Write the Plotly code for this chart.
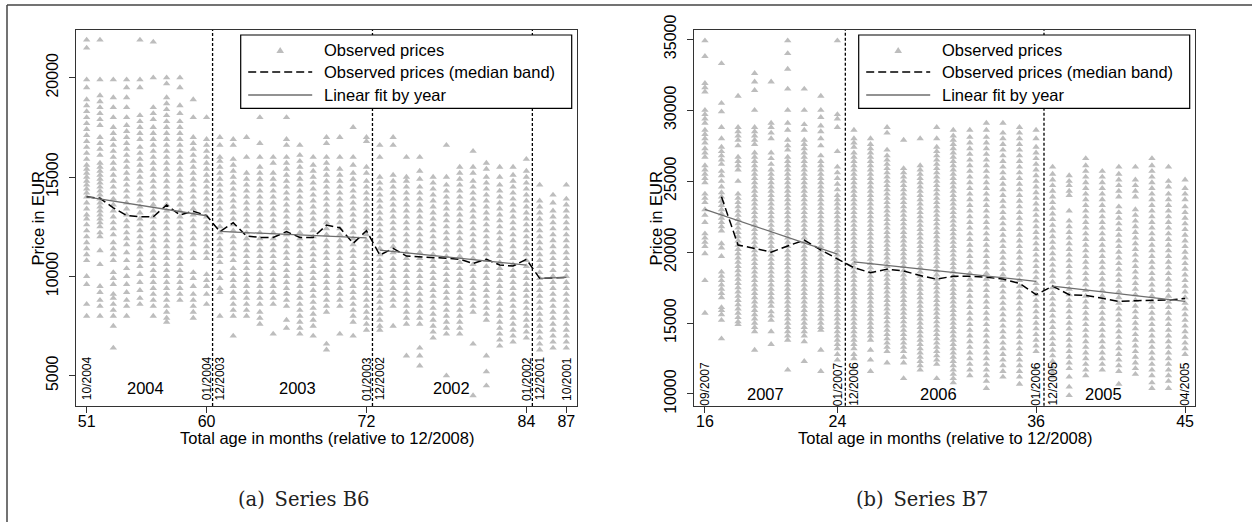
import plotly.graph_objects as go

W, H = 1252, 522
FONT = "Liberation Sans, Arial, sans-serif"
SERIF = "DejaVu Serif, Liberation Serif, serif"

# ---------------- Series B6 (prices in hundreds of EUR) ----------------
b6_months = [51, 52, 53, 54, 55, 56, 57, 58, 59, 60, 61, 62, 63, 64, 65, 66, 67, 68, 69,
             70, 71, 72, 73, 74, 75, 76, 77, 78, 79, 80, 81, 82, 83, 84, 85, 86, 87]
b6_prices = [
    "219 215 199 195 189 186 183 180 177 174 171 168 165 162 159 156 154 152 150 148 146 144 142 140 137 134 131 129 126 123 120 117 114 111 108 100 96 86 80",
    "219 199 191 188 185 182 179 176 170 167 164 161 157 155 153 151 149 147 145 143 141 139 137 135 133 131 129 127 125 122 120 113 106 95 92 88 85 80",
    "199 190 185 180 175 172 169 166 163 160 157 154 151 148 145 142 139 136 133 130 127 124 121 117 114 111 108 102 99 96 91 89 86 83 80 75 64",
    "199 195 190 185 180 176 173 170 167 164 161 158 155 152 149 146 143 140 137 134 131 128 125 122 119 116 112 108 104 100 96 92 88 85 80",
    "219 199 195 181 178 175 172 169 165 162 159 156 153 150 147 144 141 138 135 132 129 126 123 120 117 114 111 108 105 101 97 93 89 86",
    "218 200 185 182 179 175 172 169 166 163 160 157 154 151 148 145 142 139 136 133 130 127 124 121 118 115 112 109 106 103 100 97 94 91 88 85 80",
    "200 197 190 187 184 181 178 175 172 169 166 163 160 157 154 151 148 145 142 139 136 133 130 127 124 121 118 115 112 109 106 103 100 97 94 91 88 85 82 79 77",
    "200 195 186 182 178 175 172 169 166 163 160 157 154 151 148 145 142 139 136 133 130 127 124 121 118 115 112 109 106 103 100 97 94 91 88",
    "189 180 170 167 164 161 158 155 152 149 146 143 140 137 134 131 128 125 122 119 116 112 109 102 99 95 91 88 85 82 79",
    "180 169 166 163 160 157 154 151 148 145 142 139 136 133 130 127 124 121 118 115 112 109 101 98 95 91 86",
    "170 166 160 158 155 152 149 146 143 140 137 134 131 128 125 122 119 116 113 110 107 102 99 94 92 80",
    "169 166 159 156 153 150 147 144 141 138 135 132 129 126 123 120 117 114 111 108 104 101 98 95 92 89 86 83 80 70",
    "170 160 152 149 146 143 140 137 134 131 128 125 122 119 116 113 110 107 104 101 98 95 92 89 86 83 80",
    "180 167 160 155 152 149 146 143 140 137 134 131 128 125 122 119 116 113 110 107 104 101 98 95 92 89 86 82 79 76",
    "160 157 152 149 146 143 140 137 134 131 128 125 122 119 116 113 110 107 104 101 98 95 92 89 86 71",
    "180 169 166 160 157 154 151 148 145 142 139 136 133 130 127 124 121 118 115 112 109 106 103 100 97 94 91 88 85 78 74",
    "166 161 158 155 152 149 146 143 140 137 134 131 128 125 122 119 116 113 110 107 104 101 98 95 92 89 86 83 80 77 74 71",
    "160 156 153 150 147 144 141 138 135 132 129 126 123 120 117 114 111 108 105 102 99 96 93 90 87 84 81 78 75 70",
    "170 167 160 157 154 151 148 145 142 139 136 133 130 127 124 121 118 115 112 109 106 103 100 97 94 91 88 85 82 66 63",
    "170 160 154 151 148 145 142 139 136 133 130 127 124 121 118 115 112 109 106 103 100 97 94 91 88 85 71",
    "175 160 156 152 149 146 143 140 137 134 131 128 125 122 119 116 113 110 107 104 101 98 95 92 89 86 83 80 77 70",
    "170 168 155 152 148 145 142 139 136 133 130 127 124 121 118 115 112 109 106 103 100 97 94 91 88 85 82 79 76 73",
    "166 160 150 147 144 141 138 135 132 129 126 123 120 117 114 111 108 105 102 99 96 93 90 87 84 81 78 75 73",
    "170 166 151 148 145 142 139 136 133 130 127 124 121 118 115 112 109 106 103 100 97 94 91 88 85 75",
    "160 150 148 145 142 139 136 133 130 127 124 121 118 115 112 109 106 103 100 97 94 91 88 85 82 79 76 60",
    "160 153 149 145 142 139 136 133 130 127 124 121 118 115 112 109 106 103 100 97 94 91 88 85 82 79 76 64 60 55",
    "150 147 144 141 138 135 132 129 126 123 120 117 114 111 108 105 102 99 96 93 90 87 84 81 78 75 72 69",
    "166 150 146 143 140 137 134 131 128 125 122 119 116 113 110 107 104 101 98 95 92 89 86 83 80 77 74 71 50",
    "155 152 149 146 143 140 137 134 131 128 125 122 119 116 113 110 107 104 101 98 95 92 89 86 83 80 77 74 71",
    "163 155 152 148 145 142 139 136 133 130 127 124 121 118 115 112 109 106 103 100 97 94 91 88 85 82 66 40",
    "157 154 150 147 144 141 138 135 132 129 126 123 120 117 114 111 108 105 102 99 96 93 90 87 84 81 78 60 52 45",
    "155 150 146 143 140 137 134 131 128 125 122 119 116 113 110 107 104 101 98 95 92 89 86 83 80 77 74 71 68 65",
    "155 151 148 145 142 139 136 133 130 127 124 121 118 115 112 109 106 103 100 97 94 91 88 85 82 79 76 73 70 67",
    "159 153 150 147 144 141 138 135 132 129 126 123 120 117 114 111 108 105 102 99 96 93 90 87 84 81 78 75 72 69",
    "146 138 135 132 129 126 123 120 117 114 111 108 105 102 99 96 93 90 87 84 81 78 75 72 69 66 63",
    "141 137 133 130 127 124 121 118 115 112 109 106 103 100 97 94 91 88 85 82 79 76 73 70 67 64",
    "146 139 136 133 130 127 124 121 118 115 112 109 106 103 100 97 94 91 88 85 82 79 76 73 70 67 64",
]
b6_median = [140.1, 139.3, 134.5, 130.6, 130.0, 130.0, 135.9, 130.9, 132.8, 130.6, 122.5, 127.0,
             120.3, 119.6, 119.6, 122.5, 119.6, 119.6, 125.8, 124.5, 116.6, 123.0, 110.7, 114.1,
             110.2, 109.9, 109.6, 109.1, 108.6, 106.5, 108.6, 105.7, 105.2, 108.6, 99.0, 99.3, 99.5]
b6_fit_start = [51, 61, 73, 85]
b6_fit_end = [60, 72, 84, 87]
b6_fit_from = [140.0, 122.6, 113.2, 99.0]
b6_fit_to = [130.5, 119.4, 105.7, 99.5]
b6_breaks = [60.45, 72.45, 84.45]
b6_date_months = [51, 60, 61, 72, 73, 84, 85, 87]
b6_date_text = ["10/2004", "01/2004", "12/2003", "01/2003", "12/2002", "01/2002", "12/2001", "10/2001"]
b6_year_months = [55.4, 66.8, 78.4]
b6_year_text = ["2004", "2003", "2002"]
b6_xticks = [51, 60, 72, 84, 87]
b6_yticks = [5000, 10000, 15000, 20000]

# ---------------- Series B7 (prices in hundreds of EUR) ----------------
b7_months = [16, 17, 18, 19, 20, 21, 22, 23, 24, 25, 26, 27, 28, 29, 30,
             31, 32, 33, 34, 35, 36, 37, 38, 39, 40, 41, 42, 43, 44, 45]
b7_prices = [
    "349 338 319 316 313 300 297 294 291 286 283 280 277 273 270 267 261 258 255 252 249 241 238 235 230 226 221 213 210 207 204 199 180 157",
    "333 305 299 288 280 274 271 268 265 262 257 254 250 246 242 239 236 233 230 227 224 221 218 215 206 203 197 186 183 180 177 174 171 168 161 159 156 152 139",
    "310 288 285 282 279 275 267 264 261 258 250 241 238 235 232 229 226 223 220 217 214 211 208 205 202 199 196 193 190 187 184 181 178 175 172 169 166 163 160 157 154 151 149",
    "326 320 314 300 288 285 282 279 276 270 267 264 261 258 255 252 249 246 243 240 237 234 231 228 225 222 219 216 213 210 207 204 201 198 195 192 189 186 183 180 177 174 171 168 165 162 159 156 153 150 147 144 131",
    "320 291 288 284 280 270 266 262 258 255 252 249 246 243 240 237 234 231 228 225 222 219 216 213 210 207 204 201 198 195 192 189 186 183 180 177 174 171 168 165 162 158 155 152 144 135",
    "349 340 329 315 300 291 286 279 275 272 267 264 261 258 255 252 249 246 243 240 237 234 231 228 225 222 219 216 213 210 207 204 201 198 195 192 189 186 183 180 177 174 171 168 165 162 159 156 153 150 147 144 141 138 117",
    "315 300 290 286 279 276 273 270 267 264 261 258 255 252 249 246 243 240 237 234 231 228 225 222 219 216 213 210 207 204 201 198 195 192 189 186 183 180 177 174 171 168 165 162 159 156 153 150 147 144 141 137 123",
    "310 300 295 289 285 280 275 268 264 261 258 255 252 249 246 243 240 237 234 231 228 225 222 219 216 213 210 207 204 201 198 195 192 189 186 183 180 177 174 171 168 165 162 159 156 153 150 147 145 131 116",
    "349 297 294 288 271 260 256 252 248 244 240 237 234 231 228 225 222 219 216 213 210 207 204 201 198 195 192 189 186 183 180 177 174 171 168 165 162 159 156 153 150 147 144 141 138 135 132 128 124",
    "286 280 277 274 270 267 264 261 258 255 252 249 246 243 240 237 234 231 228 225 222 219 216 213 210 207 204 201 198 195 192 189 186 183 180 177 174 171 168 165 162 159 156 153 150 147 144 141 138 135 132 128 125",
    "280 276 273 270 267 264 261 258 255 252 249 246 243 240 237 234 231 228 225 222 219 216 213 210 207 204 201 198 195 192 189 186 183 180 177 174 171 168 165 162 159 156 153 150 147 144 141 138 131 124 116",
    "288 284 272 268 265 262 259 256 253 250 247 244 241 238 235 232 229 226 223 220 217 214 211 208 205 202 199 196 193 190 187 184 181 178 175 172 169 166 163 160 157 154 151 148 145 142 139 136 133 130 122",
    "279 259 256 253 250 247 244 241 238 235 232 229 226 223 220 217 214 211 208 205 202 199 196 193 190 187 184 181 178 175 172 169 166 163 160 157 154 151 148 145 142 139 136 133 130 126 122 111",
    "280 261 258 255 252 249 246 243 240 237 234 231 228 225 222 219 216 213 210 207 204 201 198 195 192 189 186 183 180 177 174 171 168 165 162 159 156 153 150 147 144 141 138 135 132 129 126 123 120 117",
    "288 280 274 271 268 265 262 259 256 253 250 247 244 241 238 235 232 229 226 223 220 217 214 211 208 205 202 199 196 193 190 187 184 181 178 175 172 169 166 163 160 157 154 151 148 145 142 139 136 133 130 127 124 121 111",
    "286 282 279 276 273 270 267 264 261 258 255 252 249 246 243 240 237 234 231 228 225 222 219 216 213 210 207 204 201 198 195 192 189 186 183 180 177 174 171 168 165 162 159 156 153 150 147 144 141 138 135 132 129 126 123 120 117 114 111 108",
    "286 281 277 273 269 265 261 257 253 249 245 241 237 233 229 225 221 217 213 209 205 201 197 193 189 185 181 177 173 169 165 161 157 153 149 145 141 137 133 129 125 121 117 113",
    "291 286 281 277 273 269 265 261 257 253 249 245 241 237 233 229 225 221 217 213 209 205 201 197 193 189 185 181 177 173 169 165 161 157 153 149 145 141 137 133 129 125 121 117 113 109 104",
    "291 284 280 276 272 268 264 260 256 252 248 244 240 236 232 228 224 220 216 212 208 204 200 196 192 188 184 180 176 172 168 164 160 156 152 148 144 140 136 132 128 124 120 116 112",
    "288 284 280 276 272 268 264 260 256 252 248 244 240 236 232 228 224 220 216 212 208 204 200 196 192 188 184 180 176 172 168 164 160 156 152 148 144 140 136 132 128 124 120 116 112 107",
    "286 280 274 270 266 262 258 254 250 246 242 238 234 230 226 222 218 214 210 206 202 198 194 190 186 182 178 174 170 166 162 158 154 150 146 142 138 134 130",
    "260 255 251 247 243 239 235 231 227 223 219 215 211 207 203 199 195 191 187 183 179 175 171 167 163 159 155 151 147 143 139 135 131 127 123 119 115 112",
    "254 250 247 243 240 229 222 218 214 210 206 202 198 194 190 186 182 178 174 170 166 162 158 154 150 146 142 138 134 130 126 122 118 112 105 99",
    "266 261 257 253 249 245 241 237 233 229 225 221 217 213 209 205 201 197 193 189 185 181 177 173 169 165 161 157 153 149 145 141 137 133 129 125 121 117 113",
    "257 253 249 245 241 237 233 229 225 221 217 213 209 205 201 197 193 189 185 181 177 173 169 165 161 157 153 149 145 141 137 133 129 125 121 117",
    "260 255 251 247 243 239 232 228 224 220 216 212 208 204 200 196 192 188 184 180 176 172 168 164 160 156 152 148 144 140 136 132 128 124 120 116 107",
    "260 251 247 243 239 230 226 222 218 214 210 206 202 198 194 190 186 182 178 174 170 166 162 158 154 150 146 142 138 134 130 126 122 118 114",
    "266 261 257 253 249 245 241 237 233 229 225 221 217 213 209 205 201 197 193 189 185 181 177 173 169 165 161 157 153 149 145 141 137 133 129 125 121 117 113 108 104",
    "260 250 246 241 237 233 229 225 221 217 213 209 205 201 197 193 189 185 181 177 173 169 165 161 157 153 149 145 141 137 133 129 125 121 117 113 109 104",
    "251 245 241 237 232 228 224 220 216 212 208 204 200 196 192 188 184 180 176 172 168 164 160 156 152 148 144 140 136 132 128",
]
b7_median_months = [17, 18, 19, 20, 21, 22, 23, 24, 25, 26, 27, 28, 29, 30, 31,
                    32, 33, 34, 35, 36, 37, 38, 39, 40, 41, 42, 43, 44, 45]
b7_median = [239.0, 205.0, 202.6, 200.0, 204.3, 208.5, 201.5, 195.0, 189.0, 185.5, 188.0, 186.7,
             183.5, 181.0, 183.0, 183.0, 182.3, 181.0, 178.0, 170.0, 176.0, 170.0, 169.5, 167.5,
             165.2, 165.8, 166.2, 166.2, 167.3]
b7_fit_start = [16, 25, 37]
b7_fit_end = [24, 36, 45]
b7_fit_from = [230.2, 193.1, 176.0]
b7_fit_to = [198.5, 179.4, 165.3]
b7_breaks = [24.48, 36.48]
b7_date_months = [16, 24, 25, 36, 37, 45]
b7_date_text = ["09/2007", "01/2007", "12/2006", "01/2006", "12/2005", "04/2005"]
b7_year_months = [19.65, 30.1, 40.07]
b7_year_text = ["2007", "2006", "2005"]
b7_xticks = [16, 24, 36, 45]
b7_yticks = [10000, 15000, 20000, 25000, 30000, 35000]

legend_labels = ["Observed prices", "Observed prices (median band)", "Linear fit by year"]

POINT_COLOR = "#bdbdbd"
FIT_COLOR = "#6e6e6e"
AXIS_COLOR = "#333333"


def fx(px):
    return px / W


def fy(py):
    return 1 - py / H


def expand(months, price_strings):
    xs, ys = [], []
    for m, s in zip(months, price_strings):
        for v in s.split():
            xs.append(m)
            ys.append(float(v) * 100)
    return xs, ys


def fit_segments(starts, ends, v0, v1):
    xs, ys = [], []
    for a, b, p, q in zip(starts, ends, v0, v1):
        xs += [a, b, None]
        ys += [p * 100, q * 100, None]
    return xs, ys


fig = go.Figure()

panels = [
    dict(xa="x", ya="y", months=b6_months, prices=b6_prices, med_x=b6_months, med=b6_median,
         fit=(b6_fit_start, b6_fit_end, b6_fit_from, b6_fit_to)),
    dict(xa="x2", ya="y2", months=b7_months, prices=b7_prices, med_x=b7_median_months, med=b7_median,
         fit=(b7_fit_start, b7_fit_end, b7_fit_from, b7_fit_to)),
]

for p in panels:
    sx, sy = expand(p["months"], p["prices"])
    fig.add_trace(go.Scatter(x=sx, y=sy, mode="markers", xaxis=p["xa"], yaxis=p["ya"],
                             marker=dict(symbol="triangle-up", size=6.5, color=POINT_COLOR,
                                         line=dict(width=0)),
                             showlegend=False, hoverinfo="skip"))
    fig.add_trace(go.Scatter(x=p["med_x"], y=[v * 100 for v in p["med"]], mode="lines",
                             xaxis=p["xa"], yaxis=p["ya"],
                             line=dict(color="black", width=1.5, dash="8px,4px"),
                             showlegend=False, hoverinfo="skip"))
    fxs, fys = fit_segments(*p["fit"])
    fig.add_trace(go.Scatter(x=fxs, y=fys, mode="lines", xaxis=p["xa"], yaxis=p["ya"],
                             line=dict(color=FIT_COLOR, width=1.3),
                             showlegend=False, hoverinfo="skip", connectgaps=False))

axis_common = dict(showline=True, linecolor=AXIS_COLOR, linewidth=1.3, mirror=True,
                   ticks="outside", ticklen=6, tickwidth=1.3, tickcolor=AXIS_COLOR,
                   showgrid=False, zeroline=False, automargin=False, fixedrange=True,
                   tickfont=dict(family=FONT, size=16, color="black"))

fig.update_layout(
    width=W, height=H,
    margin=dict(l=0, r=0, t=0, b=0),
    paper_bgcolor="white", plot_bgcolor="white",
    template="none",
    showlegend=False,
    xaxis=dict(domain=[fx(76), fx(577)], range=[50.2, 87.8], tickvals=b6_xticks,
               anchor="y", ticklabelstandoff=-5, **axis_common),
    yaxis=dict(domain=[fy(406), fy(30)], range=[3475, 22400], tickvals=b6_yticks,
               tickformat="d", tickangle=-90, anchor="x", ticklabelstandoff=4, **axis_common),
    xaxis2=dict(domain=[fx(694), fx(1195)], range=[15.34, 45.6], tickvals=b7_xticks,
                anchor="y2", ticklabelstandoff=-5, **axis_common),
    yaxis2=dict(domain=[fy(405.7), fy(30)], range=[9175, 35655], tickvals=b7_yticks,
                tickformat="d", tickangle=-90, anchor="x2", ticklabelstandoff=4, **axis_common),
)

shapes = []
annotations = []

# year-boundary markers
for xa, brks in (("x", b6_breaks), ("x2", b7_breaks)):
    for b in brks:
        shapes.append(dict(type="line", xref=xa, yref=("y domain" if xa == "x" else "y2 domain"),
                           x0=b, x1=b, y0=0, y1=1, layer="above",
                           line=dict(color="black", width=1.3, dash="3px,2px")))

# date labels along the bottom of each panel
for xa, ya, months, texts, ybase in (("x", "y", b6_date_months, b6_date_text, 3950),
                                       ("x2", "y2", b7_date_months, b7_date_text, 9450)):
    for m, t in zip(months, texts):
        annotations.append(dict(x=m, y=ybase, xref=xa, yref=ya, text=t, showarrow=False,
                                textangle=-90, xanchor="center", yanchor="bottom", yshift=-6,
                                font=dict(family=FONT, size=12, color="black")))

# model-year labels
for xa, ya, months, texts, yc in (("x", "y", b6_year_months, b6_year_text, 4400),
                                    ("x2", "y2", b7_year_months, b7_year_text, 10030)):
    for m, t in zip(months, texts):
        annotations.append(dict(x=m, y=yc, xref=xa, yref=ya, text=t, showarrow=False,
                                xanchor="center", yanchor="middle",
                                font=dict(family=FONT, size=16.5, color="black")))

# axis titles and captions
for left, right, caption in ((76, 577, "(a)\u2002Series B6"), (694, 1195, "(b)\u2002Series B7")):
    cx = (left + right) / 2
    annotations.append(dict(x=fx(cx), y=fy(438), xref="paper", yref="paper",
                            text="Total age in months (relative to 12/2008)", showarrow=False,
                            xanchor="center", yanchor="middle",
                            font=dict(family=FONT, size=16.5, color="black")))
    annotations.append(dict(x=fx(left - 38.5), y=fy(218), xref="paper", yref="paper",
                            text="Price in EUR", showarrow=False, textangle=-90,
                            xanchor="center", yanchor="middle",
                            font=dict(family=FONT, size=16.5, color="black")))
    annotations.append(dict(x=fx(cx - 23), y=fy(499), xref="paper", yref="paper",
                            text=caption, showarrow=False, xanchor="center", yanchor="middle",
                            font=dict(family=SERIF, size=19.5, color="#222222")))

    # legend box
    lx0, lx1 = left + 164.7, right - 5.3
    shapes.append(dict(type="rect", xref="paper", yref="paper", x0=fx(lx0), x1=fx(lx1),
                       y0=fy(108.3), y1=fy(35), fillcolor="white", layer="above",
                       line=dict(color="black", width=1.2)))
    sx0, sx1 = lx0 + 7.5, lx0 + 71.5
    scx = (sx0 + sx1) / 2
    rows = [50, 72, 95]
    # triangle symbol
    tw, th = 3.8, 3.0
    tri = "M {a},{b} L {c},{d} L {e},{f} Z".format(
        a=fx(scx - tw), b=fy(rows[0] + th), c=fx(scx + tw), d=fy(rows[0] + th),
        e=fx(scx), f=fy(rows[0] - th))
    shapes.append(dict(type="path", xref="paper", yref="paper", path=tri, layer="above",
                       fillcolor=POINT_COLOR, line=dict(width=0)))
    shapes.append(dict(type="line", xref="paper", yref="paper", x0=fx(sx0), x1=fx(sx1),
                       y0=fy(rows[1]), y1=fy(rows[1]), layer="above",
                       line=dict(color="black", width=1.5, dash="8px,4px")))
    shapes.append(dict(type="line", xref="paper", yref="paper", x0=fx(sx0), x1=fx(sx1),
                       y0=fy(rows[2]), y1=fy(rows[2]), layer="above",
                       line=dict(color=FIT_COLOR, width=1.3)))
    for r, lab in zip(rows, legend_labels):
        annotations.append(dict(x=fx(lx0 + 81), y=fy(r), xref="paper", yref="paper",
                                text=lab, showarrow=False, xanchor="left", yanchor="middle",
                                font=dict(family=FONT, size=16.5, color="black")))

# outer frame
shapes.append(dict(type="line", xref="paper", yref="paper", x0=fx(7), x1=1, y0=fy(5), y1=fy(5),
                   line=dict(color="#444444", width=1.5)))
shapes.append(dict(type="line", xref="paper", yref="paper", x0=fx(7), x1=fx(7), y0=fy(5), y1=0,
                   line=dict(color="#444444", width=1.5)))

fig.update_layout(shapes=shapes, annotations=annotations)
fig.write_html("out.html")
